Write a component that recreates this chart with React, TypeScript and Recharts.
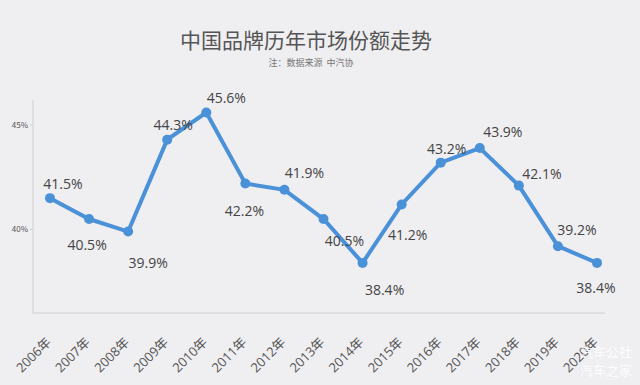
import React from 'react';
import { LineChart, Line, XAxis, YAxis, LabelList } from 'recharts';

// years on the x axis
const years = [
  '2006年', '2007年', '2008年', '2009年', '2010年', '2011年', '2012年', '2013年',
  '2014年', '2015年', '2016年', '2017年', '2018年', '2019年', '2020年',
];

// share of Chinese brands, %
const share = [41.5, 40.5, 39.9, 44.3, 45.6, 42.2, 41.9, 40.5, 38.4, 41.2, 43.2, 43.9, 42.1, 39.2, 38.4];

const yTicks = [40, 45];

// where each value label sits relative to its point
const labelOffsets: [number, number][] = [
  [13, -13], [-2, 27], [20, 33], [6, -13], [20, -13], [-1, 29], [20, -16], [21, 23],
  [22, 28], [6, 32], [6, -12], [23, -15], [23, -10], [19, -15], [-1, 26],
];

const data = years.map((year, i) => ({ year, share: share[i] }));

const LINE = '#4a91d8';
const BG = '#efeef1';

const XTick = (props: any) => {
  const { x, y, payload } = props;
  const ax = x + 2;
  const ay = y + 22;
  return (
    <text
      x={ax}
      y={ay}
      transform={`rotate(-45, ${ax}, ${ay})`}
      textAnchor="end"
      fontSize={13}
      fill="#555"
      fontFamily="'Open Sans', 'Noto Sans CJK SC', sans-serif"
    >
      {payload.value}
    </text>
  );
};

const ValueLabel = (props: any) => {
  const { x, y, value, index } = props;
  const [dx, dy] = labelOffsets[index];
  return (
    <text
      x={x + dx}
      y={y + dy}
      textAnchor="middle"
      dominantBaseline="middle"
      fontSize={14}
      fill="#444"
      fontFamily="'Open Sans', sans-serif"
    >
      {value.toFixed(1)}%
    </text>
  );
};

export default function App() {
  return (
    <div
      style={{
        position: 'absolute',
        left: 0,
        top: 0,
        width: 640,
        height: 385,
        background: BG,
        fontFamily: "'Noto Sans CJK SC', sans-serif",
      }}
    >
      <div
        style={{
          position: 'absolute',
          top: 25,
          left: 0,
          width: 612,
          textAlign: 'center',
          fontSize: 21,
          color: '#555',
          lineHeight: '28px',
        }}
      >
        中国品牌历年市场份额走势
      </div>
      <div
        style={{
          position: 'absolute',
          top: 57,
          left: 0,
          width: 622,
          textAlign: 'center',
          fontSize: 9,
          color: '#777',
          lineHeight: '12px',
        }}
      >
        注：数据来源&nbsp;&nbsp;中汽协
      </div>
      <LineChart
        width={640}
        height={385}
        data={data}
        margin={{ top: 100, right: 35, bottom: 0, left: 3 }}
      >
        <XAxis
          dataKey="year"
          height={72}
          interval={0}
          padding={{ left: 17, right: 8 }}
          stroke="#cfcfd2"
          tickLine={false}
          tick={<XTick />}
        />
        <YAxis
          width={30}
          domain={[36, 46.2]}
          ticks={yTicks}
          tickFormatter={(v: number) => `${v}%`}
          tick={{ fontSize: 8, fill: '#555' }}
          tickSize={3}
          stroke="#cfcfd2"
        />
        <Line
          type="linear"
          dataKey="share"
          stroke={LINE}
          strokeWidth={4}
          dot={{ r: 5, fill: LINE, stroke: LINE, strokeWidth: 0 }}
          isAnimationActive={false}
        >
          <LabelList dataKey="share" content={<ValueLabel />} />
        </Line>
      </LineChart>
      <div
        style={{
          position: 'absolute',
          left: 580,
          top: 343,
          fontSize: 13,
          color: 'rgba(255,255,255,0.85)',
          lineHeight: '18px',
        }}
      >
        汽车公社
        <br />
        汽车之家
      </div>
    </div>
  );
}
